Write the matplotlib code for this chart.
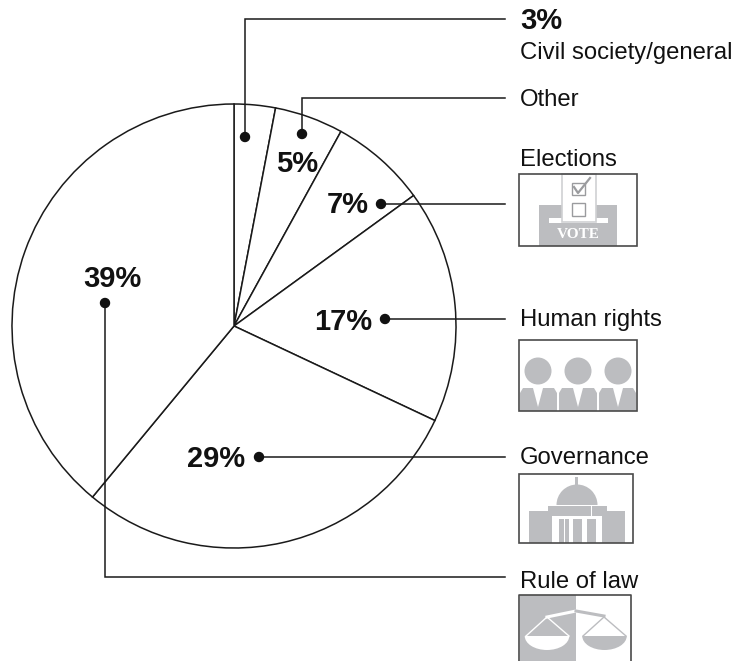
import matplotlib
matplotlib.use('Agg')
import matplotlib.pyplot as plt
from matplotlib.patches import Rectangle, Circle, Polygon, Wedge, Ellipse

plt.rcParams['font.family'] = ['Liberation Sans', 'DejaVu Sans']

# parts of the pie, clockwise from the top
shares = [3, 5, 7, 17, 29, 39]
pct_labels = ['3%', '5%', '7%', '17%', '29%', '39%']
categories = ['Civil society/general', 'Other', 'Elections', 'Human rights', 'Governance', 'Rule of law']

GREY = '#bcbdc0'
DARK = '#4a4a4a'

fig = plt.figure(figsize=(7.35, 6.61), dpi=100)
ax = fig.add_axes([0, 0, 1, 1])

# y axis runs downward so everything is in picture pixels
ax.pie(shares, radius=222, center=(234, 326), startangle=-90, counterclock=True, frame=True,
       colors=['white'] * 6, wedgeprops={'edgecolor': '#1a1a1a', 'linewidth': 1.1})
ax.set_xlim(0, 735)
ax.set_ylim(661, 0)
ax.set_aspect('equal')
ax.axis('off')

# leader lines and dots
leaders = [
    ([245, 245, 505], [137, 19, 19]),
    ([302, 302, 505], [134, 98, 98]),
    ([381, 505], [204, 204]),
    ([385, 505], [319, 319]),
    ([259, 505], [457, 457]),
    ([105, 105, 505], [303, 577, 577]),
]
for xs, ys in leaders:
    ax.plot(xs, ys, color='#1a1a1a', lw=1.1, solid_joinstyle='miter', zorder=4)
    ax.add_patch(Circle((xs[0], ys[0]), 4.5, color='#111111', zorder=5))

# percent labels
pct_pos = [(520, 21), (297, 164), (348, 205), (343, 322), (216, 459), (112, 279)]
for (x, y), t in zip(pct_pos, pct_labels):
    ha = 'left' if t == '3%' else 'center'
    ax.text(x, y, t, fontsize=21, fontweight='bold', ha=ha, va='center', color='#111111', zorder=6)

# category labels
cat_pos = [53, 99.5, 159.5, 320, 457.5, 581.5]
for y, t in zip(cat_pos, categories):
    ax.text(520, y, t, fontsize=17.2, ha='left', va='center', color='#111111', zorder=6)


def rect(x0, y0, x1, y1, fc=GREY, ec='none', lw=0, z=3):
    ax.add_patch(Rectangle((x0, y0), x1 - x0, y1 - y0, fc=fc, ec=ec, lw=lw, zorder=z))


def frame(x0, y0, x1, y1):
    ax.add_patch(Rectangle((x0, y0), x1 - x0, y1 - y0, fc='none', ec=DARK, lw=1.2, zorder=8))


# elections icon
rect(539, 205, 617, 246)
rect(549, 218, 608, 223, fc='white', z=4)
rect(562, 174, 596, 222, fc='white', ec='#d0d1d3', lw=1.2, z=5)
rect(572, 183, 585, 195, fc='white', ec='#9a9b9e', lw=1, z=6)
rect(572, 203, 585, 216, fc='white', ec='#9a9b9e', lw=1, z=6)
ax.plot([574, 578, 590], [187, 193, 178], color='#9a9b9e', lw=1.6, zorder=7)
ax.text(578, 234, 'VOTE', fontsize=11, fontweight='bold', family='Liberation Serif', color='white',
        ha='center', va='center', zorder=6)
frame(519, 174, 637, 246)

# human rights icon
for cx, bx0, bx1 in [(538, 520, 557), (578, 559, 597), (618, 599, 636)]:
    ax.add_patch(Circle((cx, 371), 13.5, fc=GREY, ec='none', zorder=3))
    ax.add_patch(Polygon([(bx0, 393), (bx0 + 3, 388), (cx - 5, 388), (cx, 407), (cx + 5, 388),
                          (bx1 - 3, 388), (bx1, 393), (bx1, 411), (bx0, 411)],
                         fc=GREY, ec='none', zorder=3))
frame(519, 340, 637, 411)

# governance icon
rect(529, 511, 625, 543)
rect(548, 506, 607, 543)
rect(552, 516, 602, 543, fc='white', z=4)
for x0, x1 in [(559, 564), (565, 569), (573, 582), (587, 596)]:
    rect(x0, 519, x1, 543, z=5)
rect(591, 506, 592, 516, fc='white', z=6)
ax.add_patch(Wedge((577, 505), 20.5, 180, 360, fc=GREY, ec='none', zorder=3))
rect(575, 477, 578, 485)
frame(519, 474, 633, 543)

# rule of law icon
rect(520, 595, 576, 661)
ax.plot([526, 547, 569], [636, 617, 636], color='white', lw=1, zorder=4)
ax.plot([583, 604, 626], [636, 617, 636], color=GREY, lw=1, zorder=4)
ax.plot([547, 576], [617, 611], color='white', lw=2.2, zorder=5)
ax.plot([576, 604], [611, 616], color=GREY, lw=2.2, zorder=5)
for cx, col in [(547, 'white'), (604.5, GREY)]:
    # flat-topped pans: lower half of an ellipse
    pan = Ellipse((cx, 636), 44.5, 28, fc=col, ec='none', zorder=5)
    ax.add_patch(pan)
    pan.set_clip_path(Rectangle((cx - 24, 636), 48, 16, transform=ax.transData))
ax.plot([519, 519, 631, 631], [661, 595, 595, 661], color=DARK, lw=1.2, zorder=8)

fig.savefig('out.png', dpi=100)
